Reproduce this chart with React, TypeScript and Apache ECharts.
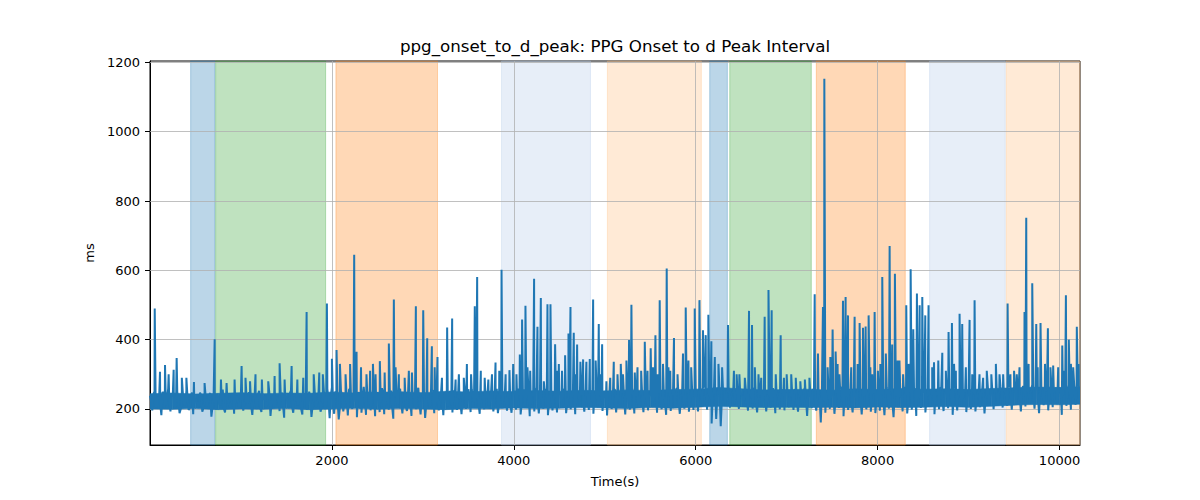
import React, { useEffect, useRef } from "react";
import * as echarts from "echarts";

const TITLE = "ppg_onset_to_d_peak: PPG Onset to d Peak Interval";
const X_LABEL = "Time(s)";
const Y_LABEL = "ms";
const X_TICKS = [2000, 4000, 6000, 8000, 10000];
const Y_TICKS = [200, 400, 600, 800, 1000, 1200];
const X_MIN = 0;
const X_MAX = 10225;
const Y_MIN = 96;
const Y_MAX = 1204;

// regular samples of the noisy band, one every SAMPLE_STEP seconds
const SAMPLE_STEP = 25;
const baseline = [
  238, 196, 251, 205, 228, 182, 246, 210, 259, 193, 235, 201, 248, 188, 226, 214, 252, 197, 240, 185,
  231, 203, 247, 192, 222, 208, 239, 178, 244, 199, 233, 211, 256, 190, 229, 204, 241, 186, 237, 207,
  249, 195, 226, 212, 243, 183, 235, 200, 252, 191, 228, 206, 245, 180, 238, 209, 231, 194, 247, 175,
  236, 202, 254, 189, 229, 210, 242, 184, 233, 198, 250, 177, 240, 205, 227, 192, 246, 199, 258, 173,
  262, 186, 245, 170, 251, 193, 238, 181, 259, 200, 233, 176, 247, 189, 264, 183, 241, 196, 255, 179,
  248, 191, 260, 185, 237, 198, 253, 172, 244, 203, 258, 187, 235, 194, 250, 180, 242, 199, 261, 184,
  249, 174, 239, 201, 255, 188, 232, 196, 246, 182, 240, 207, 252, 190, 236, 197, 249, 185, 243, 200,
  257, 191, 238, 204, 250, 186, 244, 199, 233, 209, 248, 193, 241, 188, 255, 202, 236, 195, 251, 189,
  245, 198, 259, 184, 240, 206, 253, 179, 247, 193, 262, 187, 238, 201, 256, 182, 244, 196, 250, 190,
  242, 203, 257, 188, 236, 199, 251, 185, 245, 208, 239, 192, 254, 197, 248, 186, 243, 205, 237, 194,
  252, 181, 241, 200, 258, 190, 235, 206, 249, 184, 244, 198, 260, 187, 238, 203, 253, 191, 246, 196,
  240, 205, 256, 189, 247, 199, 237, 183, 251, 194, 243, 208, 259, 186, 236, 201, 254, 192, 248, 197,
  257, 193, 244, 207, 266, 198, 252, 158, 248, 171, 262, 150, 255, 210, 259, 204, 246, 212, 253, 200,
  241, 206, 258, 195, 247, 201, 262, 190, 239, 209, 253, 193, 246, 204, 260, 188, 243, 199, 256, 196,
  249, 205, 238, 197, 255, 192, 244, 208, 262, 180, 236, 202, 252, 195, 247, 161, 260, 189, 241, 200,
  258, 186, 246, 203, 263, 179, 240, 197, 254, 190, 248, 206, 261, 184, 237, 199, 256, 192, 245, 188,
  259, 195, 243, 182, 262, 201, 249, 176, 255, 205, 241, 193, 264, 187, 250, 198, 257, 180, 244, 203,
  261, 190, 247, 207, 255, 185, 242, 199, 263, 194, 251, 202, 246, 183, 259, 196, 240, 208, 254, 191,
  248, 200, 260, 193, 245, 205, 256, 187, 243, 210, 262, 199, 250, 213, 265, 204, 257, 209, 268, 198,
  261, 212, 254, 193, 266, 207, 249, 215, 270, 201, 258, 188, 263, 211, 252, 196, 267, 205, 256, 214,
  262, 183, 255, 209, 269, 198, 251, 212, 264,
];

// in-between samples of the band (half a step after each baseline sample)
const midband = [
  221, 243, 207, 236, 214, 249, 202, 231, 218, 245, 209, 238, 225, 199, 241, 212, 233, 204, 247, 216,
  228, 211, 240, 203, 235, 219, 246, 207, 226, 242, 213, 230, 201, 238, 222, 209, 244, 216, 232, 205,
  239, 214, 226, 248, 208, 233, 217, 243, 202, 229, 237, 211, 246, 220, 204, 235, 224, 241, 210, 231,
  218, 245, 206, 234, 222, 240, 199, 228, 247, 213, 236, 208, 243, 219, 231, 205, 249, 215, 227, 238,
  212, 250, 223, 204, 241, 217, 232, 255, 209, 238, 221, 246, 201, 234, 226, 252, 214, 229, 243, 207,
  236, 219, 248, 211, 230, 245, 206, 239, 224, 253, 215, 232, 208, 247, 222, 237, 203, 251, 218, 229,
  244, 213, 235, 226, 251, 209, 240, 221, 232, 248, 216, 238, 211, 254, 227, 242, 219, 233, 246, 214,
  231, 256, 220, 242, 213, 249, 227, 236, 252, 218, 241, 225, 258, 215, 237, 248, 222, 244, 211, 239,
  253, 224, 240, 217, 257, 232, 246, 213, 238, 251, 226, 243, 219, 255, 234, 221, 249, 229, 242, 216,
  247, 228, 255, 220, 241, 233, 258, 215, 239, 250, 224, 245, 230, 253, 218, 242, 236, 257, 223, 240,
  226, 251, 234, 218, 255, 239, 222, 247, 231, 258, 216, 243, 236, 252, 221, 245, 229, 256, 219, 238,
  249, 223, 241, 257, 230, 246, 217, 252, 235, 244, 226, 259, 220, 240, 248, 231, 254, 224, 243, 236,
  232, 258, 247, 262, 238, 253, 229, 243, 260, 236, 249, 225, 257, 241, 263, 234, 251, 245, 228, 255,
  236, 250, 222, 245, 231, 257, 219, 242, 253, 227, 248, 233, 259, 221, 240, 251, 229, 246, 238, 254,
  224, 247, 235, 256, 218, 243, 230, 252, 226, 249, 237, 258, 215, 241, 233, 255, 222, 246, 239, 231,
  250, 227, 243, 258, 221, 245, 236, 254, 219, 248, 232, 257, 225, 242, 251, 228, 246, 234, 260, 223,
  239, 255, 226, 248, 233, 259, 218, 244, 237, 252, 229, 256, 241, 223, 249, 235, 258, 227, 245, 232,
  247, 230, 256, 238, 224, 251, 242, 259, 227, 245, 236, 253, 220, 248, 233, 257, 241, 229, 250, 238,
  236, 252, 243, 227, 258, 240, 249, 233, 261, 238, 246, 255, 231, 259, 244, 252, 237, 263, 241, 256,
  248, 262, 235, 257, 244, 266, 238, 253, 247, 260, 232, 258, 250, 241, 264, 236, 255, 249, 261, 243,
  252, 239, 261, 246, 257, 234, 263, 248, 255,
];

// solid core of the dense band (lower / upper edge), one value every CORE_STEP seconds
const CORE_STEP = 250;
const coreLow = [
  200, 199, 201, 198, 200, 199, 201, 198, 200, 202, 199, 201, 200, 198, 201, 200, 203, 201, 202, 204,
  203, 201, 204, 202, 205, 208, 206, 204, 205, 204, 205, 203, 206, 204, 205, 207, 205, 208, 211, 213,
  212, 214,
];
const coreHigh = [
  244, 246, 243, 245, 247, 244, 246, 245, 249, 246, 248, 250, 247, 251, 249, 252, 250, 253, 251, 254,
  252, 255, 253, 256, 257, 262, 258, 255, 256, 257, 254, 258, 256, 259, 257, 258, 256, 259, 261, 263,
  262, 264,
];

// isolated peaks
const spikeTimes = [
  52, 110, 165, 205, 260, 293, 350, 483, 711, 842, 930, 1007, 1100, 1230, 1425, 1557, 1620, 1685, 1722, 1800,
  1861, 1945, 2000, 2051, 2088, 2150, 2245, 2271, 2320, 2380, 2451, 2527, 2580, 2626, 2681, 2736, 2800, 2846, 2923, 3004,
  3048, 3099, 3161, 3210, 3267, 3322, 3360, 3396, 3484, 3571, 3597, 3637, 3720, 3799, 3865, 3910, 3952, 3993, 4029, 4066,
  4091, 4128, 4180, 4223, 4260, 4297, 4330, 4370, 4403, 4454, 4495, 4530, 4564, 4601, 4623, 4659, 4696, 4732, 4762, 4798,
  4835, 4872, 4900, 4934, 4971, 5018, 5099, 5140, 5176, 5238, 5267, 5293, 5330, 5400, 5440, 5505, 5530, 5557, 5604, 5640,
  5681, 5720, 5761, 5800, 5860, 5890, 5920, 5989, 6041, 6080, 6110, 6139, 6172, 6210, 6290, 6355, 6420, 6480, 6540, 6586,
  6619, 6690, 6758, 6800, 6835, 6880, 6934, 7000, 7100, 7200, 7308, 7344, 7399, 7414, 7450, 7505, 7538, 7580, 7619, 7648,
  7674, 7710, 7747, 7802, 7839, 7868, 7901, 7940, 7967, 8003, 8051, 8090, 8132, 8160, 8190, 8240, 8280, 8315, 8363, 8392,
  8432, 8462, 8491, 8524, 8560, 8620, 8667, 8711, 8780, 8817, 8860, 8901, 8930, 8970, 9011, 9066, 9120, 9200, 9300, 9380,
  9429, 9500, 9560, 9615, 9634, 9700, 9744, 9791, 9840, 9872, 9930, 9985, 10030, 10070, 10102, 10150, 10190,
];
const spikeValues = [
  490, 307, 327, 300, 313, 347, 290, 278, 401, 275, 285, 324, 280, 285, 332, 324, 285, 290, 480, 300,
  305, 504, 345, 370, 330, 300, 645, 365, 320, 300, 330, 338, 305, 389, 516, 300, 290, 310, 496, 485,
  404, 381, 350, 290, 435, 461, 285, 300, 330, 496, 581, 310, 285, 334, 602, 300, 312, 330, 300, 357,
  458, 498, 310, 576, 437, 520, 280, 502, 502, 387, 330, 310, 355, 418, 494, 420, 386, 336, 343, 336,
  344, 516, 340, 445, 387, 280, 336, 300, 330, 340, 399, 501, 305, 310, 394, 375, 320, 413, 514, 330,
  605, 310, 405, 300, 360, 493, 340, 490, 514, 427, 413, 472, 395, 350, 320, 442, 310, 300, 290, 483,
  442, 300, 466, 543, 485, 300, 413, 300, 290, 285, 531, 360, 494, 1153, 320, 429, 366, 300, 512, 523,
  470, 320, 466, 448, 434, 438, 470, 300, 480, 310, 581, 360, 670, 386, 590, 340, 300, 499, 603, 430,
  533, 499, 523, 470, 499, 335, 340, 362, 422, 448, 310, 475, 445, 320, 457, 514, 300, 310, 330, 300,
  504, 310, 320, 480, 752, 563, 445, 448, 330, 433, 325, 320, 383, 528, 400, 320, 437,
];

// smaller peaks just above the band
const minorSpikeTimes = [
  400, 600, 780, 1050, 1160, 1300, 1370, 1480, 1900, 2200, 2420, 2480, 2700, 2880, 3130, 3450, 3530, 3680, 3760, 3840,
  4150, 4480, 4680, 4950, 5060, 5200, 5360, 5470, 5580, 5700, 5950, 6250, 6450, 6650, 6720, 6970, 7050, 7150, 7250, 7480,
  7560, 7780, 7920, 8030, 8220, 8340, 8600, 8750, 8840, 9040, 9160, 9250, 9340, 9460, 9530, 9660, 9760, 9900, 10050, 10125,
  10210,
];
const minorSpikeValues = [
  290, 275, 285, 290, 300, 280, 295, 285, 300, 330, 310, 300, 320, 305, 320, 290, 300, 290, 300, 310,
  320, 310, 300, 300, 290, 300, 320, 310, 300, 320, 320, 330, 300, 320, 290, 290, 300, 280, 290, 350,
  330, 330, 320, 330, 340, 330, 320, 310, 330, 300, 290, 300, 300, 300, 300, 330, 320, 320, 310, 330,
  330,
];

// shaded experiment phases
const spanStarts = [447, 722, 2044, 3865, 5029, 6154, 6374, 7326, 8571, 9414];
const spanEnds = [714, 1931, 3161, 4843, 6062, 6348, 7271, 8304, 9403, 10225];
const spanKinds = [0, 1, 2, 3, 4, 0, 1, 2, 3, 4];

const SPAN_COLORS = [
  "rgba(31,119,180,0.3)",
  "rgba(44,160,44,0.3)",
  "rgba(255,127,14,0.3)",
  "rgba(174,199,232,0.3)",
  "rgba(255,187,120,0.3)",
];

const LINE_COLOR = "#1f77b4";
const FONT = "DejaVu Sans";

export default function App() {
  const ref = useRef<HTMLDivElement>(null);

  useEffect(() => {
    if (!ref.current) return;
    const chart = echarts.init(ref.current, undefined, { renderer: "svg" });

    const points: number[][] = [];
    baseline.forEach((v, i) => points.push([i * SAMPLE_STEP, v]));
    midband.forEach((v, i) => points.push([i * SAMPLE_STEP + SAMPLE_STEP / 2, v]));
    spikeTimes.forEach((t, i) => points.push([t, spikeValues[i]]));
    minorSpikeTimes.forEach((t, i) => points.push([t, minorSpikeValues[i]]));
    points.sort((a, b) => a[0] - b[0]);

    const coreData = coreLow.map((v, i) => [i * CORE_STEP, v, coreHigh[i]]);

    const areas = spanStarts.map((s, i) => [
      {
        xAxis: s,
        itemStyle: {
          color: SPAN_COLORS[spanKinds[i]],
          borderColor: SPAN_COLORS[spanKinds[i]],
          borderWidth: 1,
        },
      },
      { xAxis: spanEnds[i] },
    ]);

    const gridLines = [
      ...Y_TICKS.map((v) => ({ yAxis: v })),
      ...X_TICKS.map((v) => ({ xAxis: v })),
    ];

    chart.setOption({
      animation: false,
      backgroundColor: "#ffffff",
      textStyle: { fontFamily: FONT },
      grid: {
        left: 150,
        right: 120,
        top: 61,
        bottom: 55,
        show: true,
        borderColor: "#000000",
        borderWidth: 1,
        backgroundColor: "transparent",
      },
      graphic: [
        {
          type: "text",
          x: 615,
          y: 46,
          style: {
            text: TITLE,
            fontFamily: FONT,
            fontSize: 16.7,
            fill: "#000000",
            textAlign: "center",
            textVerticalAlign: "middle",
          },
        },
      ],
      xAxis: {
        type: "value",
        min: X_MIN,
        max: X_MAX,
        name: X_LABEL,
        nameLocation: "middle",
        nameGap: 30,
        nameTextStyle: { fontFamily: FONT, fontSize: 13, color: "#000000" },
        axisLine: { show: true, lineStyle: { color: "#000000", width: 1 } },
        axisTick: {
          show: true,
          customValues: X_TICKS,
          length: 5,
          lineStyle: { color: "#000000", width: 1 },
        },
        axisLabel: {
          customValues: X_TICKS,
          formatter: (v: number) => String(v),
          fontFamily: FONT,
          fontSize: 13,
          color: "#000000",
          margin: 9,
        },
        splitLine: { show: false },
      },
      yAxis: {
        type: "value",
        min: Y_MIN,
        max: Y_MAX,
        name: Y_LABEL,
        nameLocation: "middle",
        nameGap: 45,
        nameTextStyle: { fontFamily: FONT, fontSize: 13, color: "#000000" },
        axisLine: { show: true, lineStyle: { color: "#000000", width: 1 } },
        axisTick: {
          show: true,
          customValues: Y_TICKS,
          length: 5,
          lineStyle: { color: "#000000", width: 1 },
        },
        axisLabel: {
          customValues: Y_TICKS,
          formatter: (v: number) => String(v),
          fontFamily: FONT,
          fontSize: 13,
          color: "#000000",
          margin: 10,
        },
        splitLine: { show: false },
      },
      series: [
        {
          type: "custom",
          name: "core",
          data: coreData,
          z: 3,
          silent: true,
          clip: true,
          encode: { x: 0, y: [1, 2] },
          renderItem: (params: any, api: any) => {
            const i = params.dataIndex;
            if (i >= coreLow.length - 1) return null;
            const t0 = i * CORE_STEP;
            const t1 = (i + 1) * CORE_STEP;
            const pts = [
              api.coord([t0, coreLow[i]]),
              api.coord([t1, coreLow[i + 1]]),
              api.coord([t1, coreHigh[i + 1]]),
              api.coord([t0, coreHigh[i]]),
            ];
            return {
              type: "polygon",
              shape: { points: pts },
              style: { fill: LINE_COLOR, stroke: LINE_COLOR, lineWidth: 0.6 },
            };
          },
        },
        {
          type: "line",
          name: "ppg_onset_to_d_peak",
          data: points,
          z: 4,
          showSymbol: false,
          symbol: "none",
          lineStyle: { color: LINE_COLOR, width: 2 },
          itemStyle: { color: LINE_COLOR },
          clip: true,
          markArea: {
            z: 1,
            silent: true,
            label: { show: false },
            data: areas,
          },
          markLine: {
            z: 2,
            silent: true,
            symbol: ["none", "none"],
            label: { show: false },
            lineStyle: { color: "#b0b0b0", width: 0.8, type: "solid" },
            data: gridLines,
          },
        },
      ],
    });

    return () => chart.dispose();
  }, []);

  return (
    <div
      ref={ref}
      style={{ position: "fixed", left: 0, top: 0, width: 1200, height: 500 }}
    />
  );
}
